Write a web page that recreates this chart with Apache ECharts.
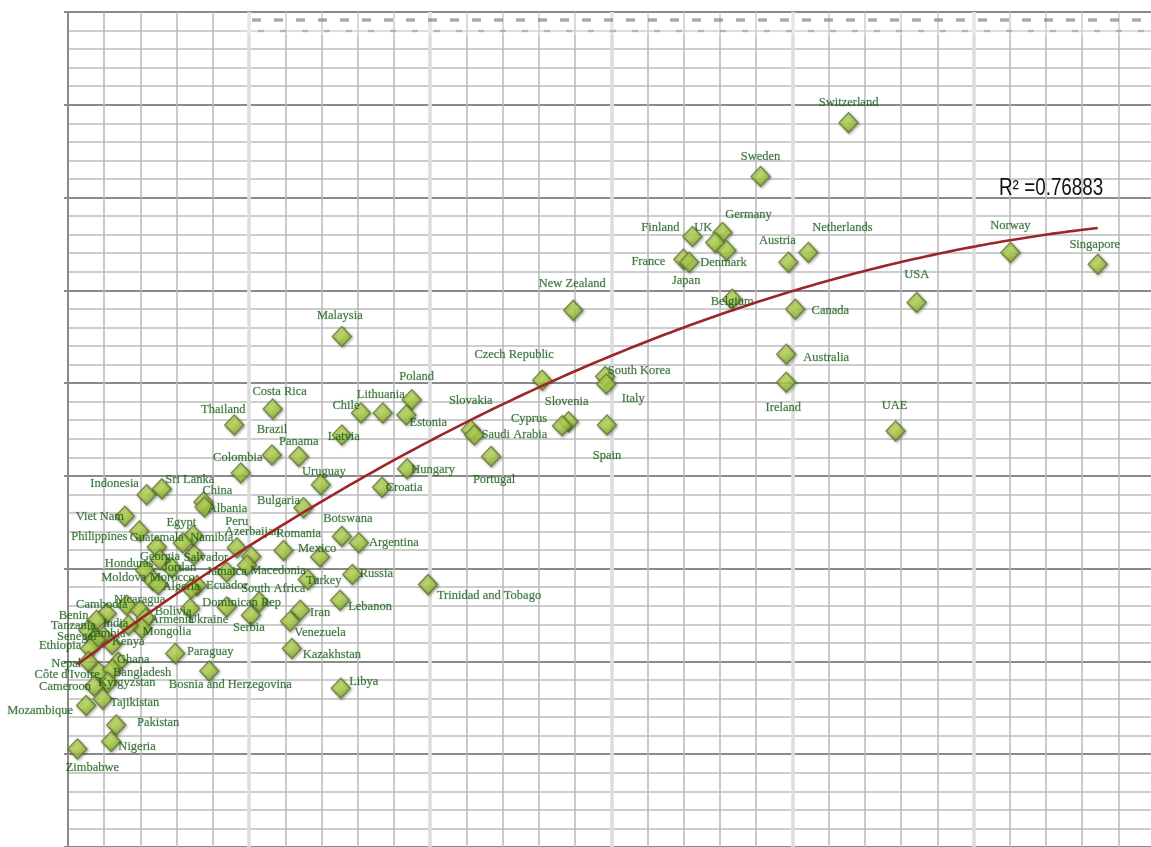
<!DOCTYPE html>
<html>
<head>
<meta charset="utf-8">
<title>Country scatter with polynomial trend</title>
<script src="https://cdn.jsdelivr.net/npm/echarts@6/dist/echarts.min.js"></script>
<style>
  html, body { margin: 0; padding: 0; background: #fff; }
  #chart { width: 1151px; height: 847px; }
</style>
</head>
<body>
<div id="chart"></div>
<script>
// ---- data -------------------------------------------------------------
const countries = [
  'Switzerland', 'Sweden', 'Germany', 'UK', 'Finland', 'Denmark', 'France', 'Japan',
  'Austria', 'Netherlands', 'Norway', 'Singapore', 'USA', 'Belgium', 'Canada', 'New Zealand',
  'Australia', 'Ireland', 'UAE', 'Czech Republic', 'South Korea', 'Italy', 'Spain', 'Slovenia',
  'Cyprus', 'Slovakia', 'Saudi Arabia', 'Portugal', 'Malaysia', 'Poland', 'Lithuania', 'Chile',
  'Estonia', 'Latvia', 'Hungary', 'Croatia', 'Uruguay', 'Costa Rica', 'Thailand', 'Brazil',
  'Panama', 'Colombia', 'Indonesia', 'Sri Lanka', 'China', 'Albania', 'Viet Nam', 'Bulgaria',
  'Botswana', 'Argentina', 'Peru', 'Azerbaijan', 'Macedonia', 'Romania', 'Mexico', 'Jamaica',
  'Salvador', 'Russia', 'Turkey', 'Trinidad and Tobago', 'Lebanon', 'Iran', 'Venezuela', 'Kazakhstan',
  'Libya', 'Bosnia and Herzegovina', 'Serbia', 'South Africa', 'Dominican Rep', 'Ecuador', 'Algeria', 'Philippines',
  'Guatemala', 'Egypt', 'Namibia', 'Georgia', 'Honduras', 'Jordan', 'Moldova', 'Morocco',
  'Nicaragua', 'Cambodia', 'Benin', 'Bolivia', 'Armenia', 'Ukraine', 'Mongolia', 'India',
  'Zambia', 'Kenya', 'Tanzania', 'Senegal', 'Ethiopia', 'Nepal', 'Ghana', "Côte d'Ivoire",
  'Bangladesh', 'Kyrgyzstan', 'Cameroon', 'Mozambique', 'Tajikistan', 'Pakistan', 'Nigeria', 'Zimbabwe',
  'Paraguay'
];

const xVal = [
  21.55, 19.12, 18.07, 17.87, 17.24, 18.18, 16.99, 17.15,
  19.89, 20.44, 26.02, 28.43, 23.43, 18.34, 20.08, 13.95,
  19.83, 19.83, 22.85, 13.09, 14.83, 14.86, 14.88, 13.82,
  13.64, 11.12, 11.22, 11.68, 7.56, 9.49, 8.69, 8.09,
  9.34, 7.56, 9.36, 8.67, 6.98, 5.65, 4.59, 5.63,
  6.37, 4.77, 2.17, 2.59, 3.74, 3.77, 1.57, 6.50,
  7.56, 8.03, 4.66, 5.06, 4.94, 5.95, 6.96, 4.38,
  3.48, 7.85, 6.62, 9.94, 7.51, 6.41, 6.13, 6.18,
  7.53, 3.90, 5.05, 5.28, 4.38, 3.56, 3.40, 1.97,
  2.45, 3.46, 3.17, 2.54, 2.13, 2.86, 2.34, 2.49,
  1.62, 1.07, 0.79, 1.99, 2.15, 3.37, 2.04, 1.67,
  0.98, 1.22, 0.56, 0.77, 0.61, 0.56, 1.39, 0.86,
  1.22, 1.10, 0.72, 0.50, 0.96, 1.33, 1.19, 0.26,
  2.96
];

const yVal = [
  39.03, 36.13, 33.12, 32.58, 32.90, 32.15, 31.67, 31.51,
  31.51, 32.04, 32.04, 31.40, 29.35, 29.52, 28.98, 28.92,
  26.56, 25.05, 22.42, 25.16, 25.36, 24.95, 22.74, 22.92,
  22.70, 22.47, 22.20, 21.04, 27.51, 24.10, 23.39, 23.39,
  23.28, 22.20, 20.38, 19.39, 19.52, 23.60, 22.74, 21.13,
  21.04, 20.16, 18.98, 19.30, 18.59, 18.32, 17.83, 18.28,
  16.74, 16.40, 16.13, 15.65, 15.18, 15.98, 15.63, 14.82,
  15.75, 14.68, 14.41, 14.14, 13.30, 12.76, 12.17, 10.70,
  8.55, 9.48, 12.49, 13.21, 12.94, 14.09, 13.92, 17.03,
  16.17, 16.79, 16.38, 15.48, 14.91, 15.05, 14.37, 14.14,
  13.03, 12.58, 12.22, 12.76, 12.31, 12.85, 11.77, 11.95,
  11.33, 10.91, 11.68, 11.18, 10.70, 9.98, 9.95, 9.41,
  9.57, 8.87, 8.66, 7.62, 7.97, 6.58, 5.68, 5.28,
  10.43
];

const rSquaredText = 'R\u00B2 =0.76883';

// ---- label placement (pixel nudges from each marker's centre) ----------
const labelNudge = {
  'Switzerland': [0, -20], 'Sweden': [0, -20], 'Germany': [26, -18], 'UK': [-12, -15],
  'Finland': [-32, -9], 'Denmark': [-3, 12], 'France': [-35, 2], 'Japan': [-3, 18],
  'Austria': [-11, -22], 'Netherlands': [34, -25], 'Norway': [0, -27], 'Singapore': [-3, -20],
  'USA': [0, -28], 'Belgium': [0, 2], 'Canada': [35, 1], 'New Zealand': [-1, -27],
  'Australia': [40, 4], 'Ireland': [-3, 26], 'UAE': [-1, -25], 'Czech Republic': [-28, -25],
  'South Korea': [34, -6], 'Italy': [27, 15], 'Spain': [0, 31], 'Slovenia': [-2, -20],
  'Cyprus': [-33, -7], 'Slovakia': [0, -29], 'Saudi Arabia': [40, 0], 'Portugal': [3, 23],
  'Malaysia': [-2, -21], 'Poland': [5, -23], 'Lithuania': [-2, -18], 'Chile': [-15, -7],
  'Estonia': [22, 8], 'Latvia': [2, 2], 'Hungary': [26, 1], 'Croatia': [22, 1],
  'Uruguay': [3, -13], 'Costa Rica': [7, -17], 'Thailand': [-11, -15], 'Brazil': [0, -25],
  'Panama': [0, -15], 'Colombia': [-3, -15], 'Indonesia': [-32, -11], 'Sri Lanka': [28, -9],
  'China': [14, -11], 'Albania': [23, 2], 'Viet Nam': [-25, 1], 'Bulgaria': [-25, -7],
  'Botswana': [6, -18], 'Argentina': [35, 0], 'Peru': [0, -26], 'Azerbaijan': [1, -25],
  'Macedonia': [31, 5], 'Romania': [15, -17], 'Mexico': [-3, -8], 'Jamaica': [0, 0],
  'Salvador': [12, 3], 'Russia': [24, -1], 'Turkey': [16, 1], 'Trinidad and Tobago': [61, 11],
  'Lebanon': [30, 7], 'Iran': [20, 2], 'Venezuela': [30, 12], 'Kazakhstan': [40, 6],
  'Libya': [23, -7], 'Bosnia and Herzegovina': [21, 14], 'Serbia': [-2, 12], 'South Africa': [14, -13],
  'Dominican Rep': [15, -4], 'Ecuador': [30, 0], 'Algeria': [-10, -2], 'Philippines': [-40, 6],
  'Guatemala': [0, -9], 'Egypt': [-12, -13], 'Namibia': [29, -5], 'Georgia': [0, -3],
  'Honduras': [-16, -7], 'Jordan': [8, 0], 'Moldova': [-29, -3], 'Morocco': [14, -7],
  'Nicaragua': [13, -6], 'Cambodia': [-5, -9], 'Benin': [-23, -5], 'Bolivia': [33, 1],
  'Armenia': [26, 1], 'Ukraine': [18, 11], 'Mongolia': [25, 3], 'India': [-13, -2],
  'Zambia': [3, -3], 'Kenya': [16, -3], 'Tanzania': [-15, -5], 'Senegal': [-19, -3],
  'Ethiopia': [-30, -3], 'Nepal': [-22, 2], 'Ghana': [15, -3], "Côte d'Ivoire": [-32, 2],
  'Bangladesh': [30, 3], 'Kyrgyzstan': [19, 0], 'Cameroon': [-29, 0], 'Mozambique': [-46, 5],
  'Tajikistan': [32, 4], 'Pakistan': [42, -2], 'Nigeria': [26, 5], 'Zimbabwe': [15, 19],
  'Paraguay': [35, -2]
};

// ---- second-order least-squares trend through the points ---------------
function quadraticFit(xs, ys) {
  let s0 = xs.length, s1 = 0, s2 = 0, s3 = 0, s4 = 0, t0 = 0, t1 = 0, t2 = 0;
  for (let i = 0; i < xs.length; i++) {
    const x = xs[i], y = ys[i], x2 = x * x;
    s1 += x; s2 += x2; s3 += x2 * x; s4 += x2 * x2;
    t0 += y; t1 += x * y; t2 += x2 * y;
  }
  // solve [s0 s1 s2; s1 s2 s3; s2 s3 s4] * [c0 c1 c2] = [t0 t1 t2]
  const m = [[s0, s1, s2, t0], [s1, s2, s3, t1], [s2, s3, s4, t2]];
  for (let c = 0; c < 3; c++) {
    let p = c;
    for (let r = c + 1; r < 3; r++) if (Math.abs(m[r][c]) > Math.abs(m[p][c])) p = r;
    [m[c], m[p]] = [m[p], m[c]];
    for (let r = 0; r < 3; r++) {
      if (r === c) continue;
      const f = m[r][c] / m[c][c];
      for (let k = c; k < 4; k++) m[r][k] -= f * m[c][k];
    }
  }
  return [m[0][3] / m[0][0], m[1][3] / m[1][1], m[2][3] / m[2][2]];
}

const coef = quadraticFit(xVal, yVal);
const xLo = Math.min(...xVal), xHi = Math.max(...xVal);
const trendData = [];
for (let i = 0; i <= 160; i++) {
  const x = xLo + (xHi - xLo) * i / 160;
  trendData.push([x, coef[0] + coef[1] * x + coef[2] * x * x]);
}

const points = countries.map((name, i) => ({
  name,
  value: [xVal[i], yVal[i]],
  label: { offset: labelNudge[name] || [0, -20] }
}));

// ---- chart ------------------------------------------------------------
const chart = echarts.init(document.getElementById('chart'), null, { renderer: 'canvas' });

const hiddenAxisParts = {
  axisLine: { show: false }, axisTick: { show: false }, axisLabel: { show: false }
};

chart.setOption({
  animation: false,
  backgroundColor: '#ffffff',
  grid: { left: 68, right: 0, top: 12, bottom: 0, containLabel: false },
  xAxis: [
    Object.assign({
      type: 'value', min: 0, max: 29.9, interval: 1,
      splitLine: { show: true, showMinLine: false, showMaxLine: false,
        lineStyle: { color: '#b8b8b8', width: 1.5 } }
    }, hiddenAxisParts),
    Object.assign({
      type: 'value', min: 0, max: 29.9, interval: 5, gridIndex: 0,
      splitLine: { show: true, showMinLine: false, showMaxLine: false,
        lineStyle: { color: 'rgba(224,224,224,0.85)', width: 4 } }
    }, hiddenAxisParts)
  ],
  yAxis: {
    type: 'value', min: 0, max: 45, interval: 5,
    axisLine: { show: true, lineStyle: { color: '#8a8a8a', width: 2 } },
    axisTick: { show: true, length: 4, lineStyle: { color: '#8a8a8a', width: 2 } },
    axisLabel: { show: false },
    splitLine: { show: true, lineStyle: { color: '#8a8a8a', width: 2 } },
    minorTick: { show: false, splitNumber: 5 },
    minorSplitLine: { show: true, lineStyle: { color: '#bdbdbd', width: 1.5 } }
  },
  graphic: [
    // faded hatched band along the top edge
    { type: 'rect', z: 1, shape: { x: 240, y: 13, width: 915, height: 22 },
      style: { fill: 'rgba(255,255,255,0.3)' } },
    { type: 'line', z: 1, shape: { x1: 252, y1: 20, x2: 1151, y2: 20 },
      style: { stroke: 'rgba(100,100,100,0.55)', lineWidth: 3.5, lineDash: [9, 13] } },
    { type: 'line', z: 1, shape: { x1: 258, y1: 31, x2: 1151, y2: 31 },
      style: { stroke: 'rgba(120,120,120,0.4)', lineWidth: 2.5, lineDash: [6, 16] } },
    // goodness of fit
    { type: 'text', z: 10, left: 999, top: 177, scaleX: 0.82,
      style: { text: rSquaredText, fill: '#111',
        font: '23px "Liberation Sans", Arial, sans-serif' } }
  ],
  series: [
    {
      type: 'scatter',
      xAxisIndex: 0,
      data: points,
      symbol: 'diamond',
      symbolSize: [19, 20],
      z: 3,
      itemStyle: {
        color: {
          type: 'linear', x: 0.2, y: 0.1, x2: 0.8, y2: 0.95,
          colorStops: [
            { offset: 0, color: '#e6f98a' },
            { offset: 0.5, color: '#b2d64a' },
            { offset: 1, color: '#7fa232' }
          ]
        },
        borderColor: '#5f7a2a',
        borderWidth: 1.4,
        shadowBlur: 3,
        shadowOffsetX: 1,
        shadowOffsetY: 1,
        shadowColor: 'rgba(0,0,0,0.4)'
      },
      label: {
        show: true,
        position: 'inside',
        formatter: '{b}',
        color: '#145a14',
        textBorderColor: 'rgba(20,90,20,0.35)',
        textBorderWidth: 0.6,
        fontFamily: '"Liberation Serif", "Times New Roman", serif',
        fontSize: 12.5
      },
      emphasis: { disabled: true }
    },
    {
      type: 'line',
      xAxisIndex: 0,
      data: trendData,
      showSymbol: false,
      symbol: 'none',
      z: 5,
      lineStyle: { color: '#9c2629', width: 2.6 },
      emphasis: { disabled: true }
    }
  ]
});
</script>
</body>
</html>
